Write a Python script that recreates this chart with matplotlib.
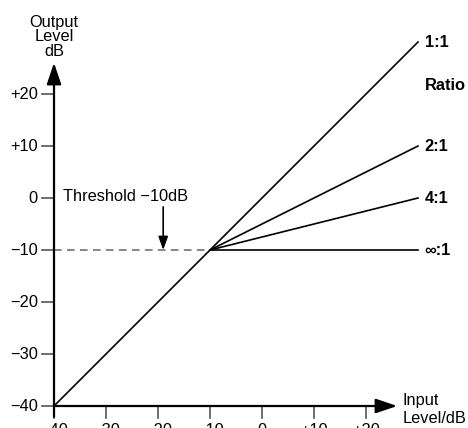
import matplotlib
matplotlib.use("Agg")
import matplotlib.pyplot as plt

plt.rcParams['font.family'] = ['Liberation Sans', 'DejaVu Sans']

# data
ticks = [-40, -30, -20, -10, 0, 10, 20]
tick_labels = ['\u221240', '\u221230', '\u221220', '\u221210', '0', '+10', '+20']
in_start = -40
threshold = -10
in_end = 30
ratio_labels = ['1:1', '2:1', '4:1', '\u221e:1']
out_end = [30, 10, 0, -10]

fig = plt.figure(figsize=(4.68, 4.28), dpi=100)
ax = fig.add_axes([0, 0, 1, 1])
ax.set_xlim(-50.385, 39.615)
ax.set_ylim(-44.23, 38.08)
ax.axis('off')

fs = 11.8
tick_col = '#555555'

# axes with arrows
ax.annotate('', xy=(26, -40), xytext=(-40, -40),
            arrowprops=dict(arrowstyle='-|>,head_length=0.65,head_width=0.22',
                            mutation_scale=20, lw=1.6, color='black',
                            shrinkA=0, shrinkB=0))
ax.annotate('', xy=(-40, 26), xytext=(-40, -42.1),
            arrowprops=dict(arrowstyle='-|>,head_length=0.65,head_width=0.22',
                            mutation_scale=20, lw=1.6, color='black',
                            shrinkA=0, shrinkB=0))

# ticks and tick labels
for t, lab in zip(ticks, tick_labels):
    ax.plot([-42.3, -40], [t, t], color=tick_col, lw=1.2)
    ax.text(-43.1, t, lab, ha='right', va='center', fontsize=fs)
    ax.plot([t, t], [-40, -42.3], color=tick_col, lw=1.2)
    ax.text(t, -43.3, lab, ha='center', va='top', fontsize=fs)

# threshold dashed line
ax.plot([in_start, threshold], [threshold, threshold], color='#666666',
        lw=1.1, dashes=(5, 3.5))

# 1:1 below threshold
ax.plot([in_start, threshold], [in_start, threshold], color='black', lw=1.2)

# ratio lines
for lab, y1 in zip(ratio_labels, out_end):
    ax.plot([threshold, in_end], [threshold, y1], color='black', lw=1.2)
    ax.text(31.3, y1, lab, ha='left', va='center', fontsize=fs,
            fontweight='bold')
ax.text(31.3, 21.7, 'Ratio', ha='left', va='center', fontsize=fs,
        fontweight='bold')

# threshold annotation
ax.text(-38.3, 0.2, 'Threshold \u221210dB', ha='left', va='center', fontsize=fs)
ax.annotate('', xy=(-19, -10), xytext=(-19, -1.7),
            arrowprops=dict(arrowstyle='-|>,head_length=0.5,head_width=0.18',
                            mutation_scale=16, lw=1.2, color='black',
                            shrinkA=0, shrinkB=0))

# axis titles
ax.text(-40, 31.0, 'Output\nLevel\ndB', ha='center', va='center',
        fontsize=fs, linespacing=0.95)
ax.text(27.1, -40.7, 'Input\nLevel/dB', ha='left', va='center',
        fontsize=fs, linespacing=1.2)

fig.savefig('out.png', dpi=100)
